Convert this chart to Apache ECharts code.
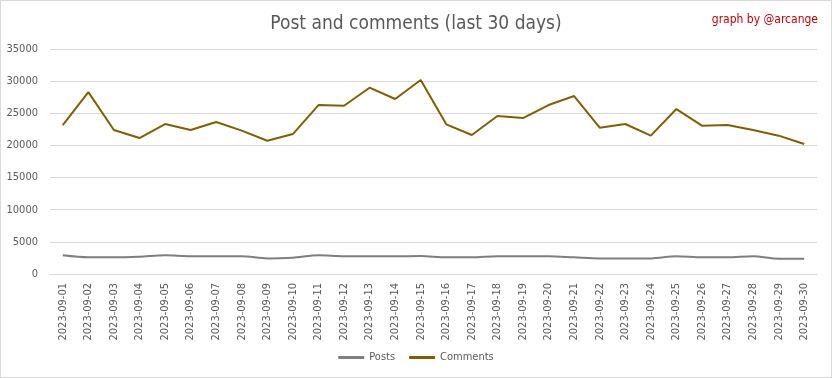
<!DOCTYPE html>
<html><head><meta charset="utf-8">
<script src="https://cdn.jsdelivr.net/npm/echarts@6/dist/echarts.min.js"></script>
<style>
html,body{margin:0;padding:0;background:#fff;}
#c{position:absolute;left:0;top:0;width:830px;height:376px;border:1px solid #d9d9d9;}
</style></head>
<body><div id="c"></div>
<script>
const categories = ["2023-09-01","2023-09-02","2023-09-03","2023-09-04","2023-09-05","2023-09-06","2023-09-07","2023-09-08","2023-09-09","2023-09-10","2023-09-11","2023-09-12","2023-09-13","2023-09-14","2023-09-15","2023-09-16","2023-09-17","2023-09-18","2023-09-19","2023-09-20","2023-09-21","2023-09-22","2023-09-23","2023-09-24","2023-09-25","2023-09-26","2023-09-27","2023-09-28","2023-09-29","2023-09-30"];
const posts = [2900,2590,2590,2690,2900,2750,2750,2750,2430,2540,2900,2750,2750,2750,2800,2590,2590,2750,2750,2750,2590,2430,2430,2430,2750,2590,2590,2750,2380,2380];
const comments = [23170,28300,22400,21150,23330,22400,23640,22300,20730,21770,26280,26180,28980,27220,30170,23280,21620,24570,24260,26280,27680,22760,23330,21520,25660,23070,23170,22400,21520,20220];
const yTicks = [0,5000,10000,15000,20000,25000,30000,35000];
const font = "'Liberation Sans Narrow','DejaVu Sans Condensed',sans-serif";
const chart = echarts.init(document.getElementById('c'));
chart.setOption({
  animation:false,
  textStyle:{fontFamily:font},
  title:[
    {text:'Post and comments (last 30 days)',left:'center',top:9,textStyle:{fontFamily:font,fontSize:19,fontWeight:'normal',color:'#595959'}},
    {text:'graph by @arcange',right:8,top:8,textStyle:{fontFamily:font,fontSize:12,fontWeight:'normal',color:'#c00000'}}
  ],
  grid:{left:49,right:14,top:48,bottom:103},
  xAxis:{type:'category',data:categories,boundaryGap:true,
    axisLine:{lineStyle:{color:'#d9d9d9'}},axisTick:{show:false},
    axisLabel:{rotate:90,color:'#595959',fontSize:11,fontFamily:font,margin:9,interval:0}},
  yAxis:{type:'value',min:yTicks[0],max:yTicks[yTicks.length-1],interval:5000,
    axisLine:{show:false},axisTick:{show:false},
    splitLine:{lineStyle:{color:'#d9d9d9'}},
    axisLabel:{color:'#595959',fontSize:11,fontFamily:font,margin:12,formatter:v=>String(v)}},
  legend:{bottom:9,left:'center',itemWidth:26,itemHeight:3,icon:'rect',itemGap:14,
    textStyle:{color:'#595959',fontSize:11,fontFamily:font},
    data:['Posts','Comments']},
  series:[
    {name:'Posts',type:'line',data:posts,smooth:0.3,showSymbol:false,symbol:'none',lineStyle:{color:'#7f7f7f',width:2},itemStyle:{color:'#7f7f7f'}},
    {name:'Comments',type:'line',data:comments,showSymbol:false,symbol:'none',lineStyle:{color:'#7f6000',width:2},itemStyle:{color:'#7f6000'}}
  ]
});
</script></body></html>
